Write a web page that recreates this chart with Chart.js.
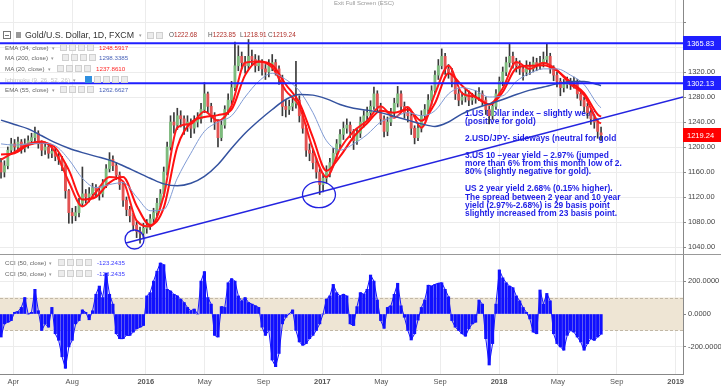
<!DOCTYPE html>
<html lang="en">
<head>
<meta charset="UTF-8">
<meta name="viewport" content="width=device-width, initial-scale=1.0">
<title>Gold/U.S. Dollar, 1D, FXCM</title>
<script src="https://cdn.jsdelivr.net/npm/chart.js"></script>
<style>
  body { margin: 0; background: #fff; font-family: 'Liberation Sans', Arial, sans-serif; }
  #wrap { position: relative; width: 721px; height: 390px; overflow: hidden; }
  #mainChart { position: absolute; left: 0; top: 0; }
  #cciChart { position: absolute; left: 0; top: 255px; }
  #wrap span, #wrap div { white-space: nowrap; }
  .abs { position: absolute; }
  .lg { position: absolute; left: 5px; height: 9px; line-height: 9px; font-size: 6.2px; color: #666; }
  .dd { color: #999; margin-left: 3px; font-size: 5px; }
  .ics { position: absolute; top: 1px; height: 7px; line-height: 7px; }
  .ics i { display: inline-block; width: 5px; height: 5px; margin-right: 2px; border: 1px solid #d0d0d0; background: #ececec; vertical-align: top; }
  .ics i.on { background: #2f8fe0; border-color: #2f8fe0; }
  .v { position: absolute; top: 0; }
  #hdr { position: absolute; top: 30px; left: 0; width: 320px; height: 10px; line-height: 10px; }
  .box { position: absolute; top: 1px; left: 3px; width: 6px; height: 6px; border: 1px solid #777;
         background: linear-gradient(#777, #777) center / 4px 1px no-repeat; }
  .sq { position: absolute; top: 2px; left: 16px; width: 5px; height: 6px; background: #999; }
  .ttl { position: absolute; left: 25px; top: 0; font-size: 8.8px; color: #333; }
  .ohlc { position: absolute; top: 0; font-size: 6.4px; color: #555; }
  .ohlc b { font-weight: normal; color: #b0302a; }
  #esc { position: absolute; top: 0; left: 334px; font-size: 6px; color: #999; }
</style>
</head>
<body>
<div id="wrap">
  <canvas id="mainChart" width="721" height="255"></canvas>
  <canvas id="cciChart" width="721" height="135"></canvas>

  <div id="esc">Exit Full Screen (ESC)</div>

  <div id="hdr">
    <span class="box"></span><span class="sq"></span>
    <span class="ttl">Gold/U.S. Dollar, 1D, FXCM</span>
    <span class="abs dd" style="left:136px;top:0">▾</span>
    <span class="ics" style="left:147px;top:2px"><i></i><i></i></span>
    <span class="ohlc" style="left:169px">O<b>1222.68</b></span>
    <span class="ohlc" style="left:208px">H<b>1223.85</b></span>
    <span class="ohlc" style="left:240px">L<b>1218.91</b></span>
    <span class="ohlc" style="left:268px">C<b>1219.24</b></span>
  </div>

  <div class="lg" style="top:42.5px">EMA (34, close)<span class="dd">▾</span>
    <span class="ics" style="left:55px"><i></i><i></i><i></i><i></i></span>
    <span class="v" style="left:94px;color:#ff2424">1248.5917</span></div>
  <div class="lg" style="top:52.5px">MA (200, close)<span class="dd">▾</span>
    <span class="ics" style="left:57px"><i></i><i></i><i></i><i></i></span>
    <span class="v" style="left:94px;color:#4a63b8">1298.3385</span></div>
  <div class="lg" style="top:63.5px">MA (20, close)<span class="dd">▾</span>
    <span class="ics" style="left:52px"><i></i><i></i><i></i><i></i></span>
    <span class="v" style="left:91px;color:#ff2424">1237.8610</span></div>
  <div class="lg" style="top:74.5px;color:#c4c4c4">Ichimoku (9, 26, 52, 26)<span class="dd">▾</span>
    <span class="ics" style="left:80px"><i class="on"></i><i></i><i></i><i></i><i></i></span></div>
  <div class="lg" style="top:84.5px">EMA (55, close)<span class="dd">▾</span>
    <span class="ics" style="left:55px"><i></i><i></i><i></i><i></i></span>
    <span class="v" style="left:94px;color:#4a63b8">1262.6627</span></div>

  <div class="lg" style="top:258px">CCI (50, close)<span class="dd">▾</span>
    <span class="ics" style="left:53px"><i></i><i></i><i></i><i></i></span>
    <span class="v" style="left:92px;color:#3a3aff">-123.2435</span></div>
  <div class="lg" style="top:269px">CCI (50, close)<span class="dd">▾</span>
    <span class="ics" style="left:53px"><i></i><i></i><i></i><i></i></span>
    <span class="v" style="left:92px;color:#3a3aff">-123.2435</span></div>
</div>

<script>
  Chart.defaults.font.family = "'Liberation Sans', Arial, sans-serif";
  Chart.defaults.animation = false;

  // x axis is in months counted from Jan 2015; candles are weekly
  const startMonth = 2.17;
  const weekStep = 0.2303;

  const opens = [
    1175,1160,1170,1195,1205,1200,1208,1198,1205,1210,
    1215,1222,1205,1195,1200,1190,1193,1185,1180,1170,
    1130,1095,1090,1095,1110,1125,1120,1125,1135,1130,
    1125,1140,1165,1180,1170,1155,1140,1115,1100,1090,
    1075,1065,1062,1070,1075,1085,1095,1110,1125,1160,
    1200,1240,1235,1250,1245,1235,1240,1230,1240,1245,
    1260,1285,1265,1250,1240,1215,1235,1260,1275,1295,
    1330,1345,1335,1330,1345,1340,1330,1335,1325,1320,
    1330,1335,1325,1310,1265,1260,1265,1270,1275,1250,
    1230,1195,1190,1175,1160,1140,1150,1160,1175,1190,
    1205,1220,1230,1235,1225,1210,1222,1240,1250,1255,
    1265,1285,1265,1245,1225,1240,1255,1270,1285,1265,
    1255,1250,1230,1215,1230,1250,1260,1275,1290,1315,
    1330,1345,1325,1320,1305,1285,1275,1280,1285,1275,
    1278,1280,1285,1275,1260,1250,1265,1285,1305,1320,
    1335,1345,1335,1330,1325,1320,1330,1325,1335,1330,
    1335,1340,1345,1325,1315,1305,1295,1300,1305,1300,
    1305,1285,1275,1265,1255,1245,1240,1222.68
  ];
  const highs = [
    1182,1178,1200,1214,1212,1216,1212,1213,1218,1222,
    1232,1226,1210,1208,1205,1200,1198,1190,1185,1173,
    1132,1102,1105,1118,1168,1132,1135,1142,1140,1136,
    1148,1172,1191,1186,1175,1160,1144,1120,1105,1094,
    1080,1072,1078,1084,1092,1102,1118,1132,1168,1208,
    1250,1255,1262,1258,1250,1250,1245,1250,1255,1270,
    1303,1288,1270,1255,1244,1242,1266,1285,1305,1368,
    1362,1352,1345,1372,1355,1348,1346,1340,1332,1340,
    1348,1340,1330,1315,1275,1275,1280,1337,1282,1258,
    1235,1205,1196,1182,1165,1158,1170,1182,1198,1212,
    1228,1240,1245,1240,1228,1230,1248,1258,1264,1274,
    1296,1290,1270,1250,1248,1262,1278,1297,1290,1272,
    1262,1255,1234,1238,1258,1268,1284,1298,1322,1340,
    1357,1350,1332,1326,1310,1292,1288,1294,1290,1286,
    1290,1295,1290,1280,1265,1272,1292,1312,1328,1344,
    1366,1352,1342,1338,1330,1338,1336,1344,1342,1345,
    1352,1365,1350,1330,1320,1310,1308,1312,1310,1312,
    1308,1290,1280,1270,1260,1252,1245,1232
  ];
  const lows = [
    1150,1152,1165,1188,1192,1195,1190,1192,1198,1204,
    1208,1198,1186,1188,1182,1183,1178,1172,1162,1118,
    1078,1078,1082,1088,1105,1110,1112,1118,1120,1115,
    1120,1135,1160,1162,1148,1132,1105,1090,1080,1066,
    1055,1046,1055,1062,1068,1078,1090,1104,1120,1155,
    1195,1222,1228,1232,1220,1225,1215,1222,1232,1238,
    1255,1255,1240,1228,1200,1210,1230,1252,1268,1290,
    1322,1325,1318,1325,1330,1320,1322,1315,1308,1312,
    1322,1315,1300,1250,1248,1252,1258,1262,1240,1222,
    1185,1178,1165,1150,1124,1128,1142,1152,1168,1182,
    1198,1212,1222,1215,1196,1204,1215,1232,1242,1248,
    1260,1256,1236,1216,1218,1234,1248,1264,1256,1246,
    1240,1220,1205,1210,1224,1244,1254,1268,1285,1308,
    1325,1316,1310,1296,1276,1266,1268,1272,1266,1268,
    1270,1274,1266,1252,1237,1244,1260,1280,1298,1314,
    1328,1326,1320,1316,1307,1314,1316,1320,1322,1324,
    1328,1334,1318,1306,1296,1282,1288,1294,1292,1294,
    1278,1266,1256,1246,1236,1230,1214,1211
  ];
  const closes = [
    1160,1170,1195,1205,1200,1208,1198,1205,1210,1215,
    1222,1205,1195,1200,1190,1193,1185,1180,1170,1130,
    1095,1090,1095,1110,1125,1120,1125,1135,1130,1125,
    1140,1165,1180,1170,1155,1140,1115,1100,1090,1075,
    1065,1062,1070,1075,1085,1095,1110,1125,1160,1200,
    1240,1235,1250,1245,1235,1240,1230,1240,1245,1260,
    1285,1265,1250,1240,1215,1235,1260,1275,1295,1330,
    1345,1335,1330,1345,1340,1330,1335,1325,1320,1330,
    1335,1325,1310,1265,1260,1265,1270,1275,1250,1230,
    1195,1190,1175,1160,1140,1150,1160,1175,1190,1205,
    1220,1230,1235,1225,1210,1222,1240,1250,1255,1265,
    1285,1265,1245,1225,1240,1255,1270,1285,1265,1255,
    1250,1230,1215,1230,1250,1260,1275,1290,1315,1330,
    1345,1325,1320,1305,1285,1275,1280,1285,1275,1278,
    1280,1285,1275,1260,1250,1265,1285,1305,1320,1335,
    1345,1335,1330,1325,1320,1330,1325,1335,1330,1335,
    1340,1345,1325,1315,1305,1295,1300,1305,1300,1305,
    1285,1275,1265,1255,1245,1240,1225,1219.24
  ];

  // moving averages read every 4 weeks
  const maWeeks = [0,4,8,12,16,20,24,28,32,36,40,44,48,52,56,60,64,68,72,76,80,84,88,
                   92,96,100,104,108,112,116,120,124,128,132,136,140,144,148,152,156,160,
                   164,168,172,176,177];
  const ma200 = [1243,1236,1229,1218,1207,1198,1191,1185,1179,1170,1160,1150,1141,1138,1142,1153,
                 1172,1198,1222,1242,1260,1276,1284,1283,1277,1268,1262,1259,1255,1249,1243,1237,
                 1233,1240,1253,1262,1269,1276,1284,1291,1296,1301,1305,1305,1300,1298.34];
  const ema55 = [1205,1203,1205,1206,1202,1180,1150,1135,1140,1143,1120,1098,1100,1150,1190,1225,
                 1240,1250,1280,1305,1318,1308,1290,1255,1210,1195,1205,1220,1240,1248,1255,1250,
                 1258,1285,1295,1290,1280,1282,1305,1318,1325,1325,1315,1300,1268,1262.66];
  const ema34 = [1188,1190,1203,1207,1199,1163,1116,1120,1143,1152,1106,1075,1103,1200,1239,1248,
                 1251,1260,1315,1337,1331,1300,1271,1215,1162,1185,1216,1238,1258,1255,1260,1242,
                 1270,1318,1298,1280,1268,1288,1326,1330,1331,1322,1304,1286,1252,1248.59];
  const ma20 = [1180,1192,1205,1209,1192,1144,1105,1128,1152,1145,1082,1073,1122,1231,1237,1257,
                1242,1266,1335,1337,1327,1290,1265,1197,1152,1197,1225,1242,1265,1247,1264,1231,
                1285,1330,1286,1280,1268,1294,1336,1325,1335,1323,1300,1283,1241,1237.86];

  const cci = [
    -140,-60,-50,-40,10,15,40,100,0,10,
    150,20,-100,-60,-80,40,-120,-160,-260,-330,
    -200,-160,-60,-40,25,10,-35,20,120,170,
    100,248,120,60,-120,-150,-150,-130,-130,-110,
    -90,-80,-70,110,130,200,260,310,300,150,
    140,120,110,90,70,40,20,30,0,200,
    258,100,60,-130,-140,45,40,190,215,200,
    110,80,100,70,60,50,40,-80,-130,-100,
    -280,-320,-240,-60,-20,0,25,-100,-170,-190,
    -180,-150,-130,-100,-60,0,90,110,180,130,
    110,120,110,-60,-70,45,130,120,150,237,
    200,85,-40,-87,40,50,120,187,50,-20,
    -100,-158,-120,-37,40,85,175,170,180,187,
    190,150,105,-40,-80,-100,-120,-135,-90,-60,
    -50,85,60,-150,-310,-180,60,268,220,190,
    170,160,110,80,40,10,-30,-110,-120,146,
    60,125,80,-120,-180,-200,-220,-130,-100,-110,
    -140,-170,-220,-180,-150,-160,-140,-123.24
  ];

  // drawn levels, trend line and circled lows (month, price)
  const levels = [1365.83, 1302.13];
  const trendLine = [[10.66, 1046.4], [48.5, 1280]];
  const circles = [[11.24, 1052, 0.645, 15.2], [23.77, 1123.7, 1.12, 20.8]];
  const noteAnchor = [33.69, 1253.9];
  const notes = [
    '1.US Dollar index – slightly weak',
    '(positive for gold)',
    '',
    '2.USD/JPY- sideways (neutral for gold',
    '',
    '3.US 10 –year yield – 2.97% (jumped',
    'more than 6% from this month low of 2.',
    '80% (slightly negative for gold).',
    '',
    'US 2 year yield 2.68% (0.15% higher).',
    'The spread between 2 year and 10 year',
    'yield (2.97%-2.68%) is 29 basis point',
    'slightly increased from 23 basis point.'
  ];

  const tickMonths = [3, 7, 12, 16, 20, 24, 28, 32, 36, 40, 44, 48];
  const tickLabels = ['Apr', 'Aug', '2016', 'May', 'Sep', '2017', 'May', 'Sep', '2018', 'May', 'Sep', '2019'];
  const priceTicks = [1040, 1080, 1120, 1160, 1200, 1240, 1280, 1320, 1360, 1400];
  const cciTicks = [-200, 0, 200];

  const xMin = 2.10, xMax = 48.5;
  const weekX = w => startMonth + w * weekStep;
  const gridColor = '#ececec';
  const upColor = '#7dbb7d', downColor = '#e25252', wickColor = '#3a3a3a';

  const lineSet = (vals, color, width) => ({
    type: 'line',
    data: vals.map((v, k) => ({ x: weekX(maWeeks[k]), y: v })),
    borderColor: color, borderWidth: width, pointRadius: 0,
    cubicInterpolationMode: 'monotone', order: 2
  });
  const straight = (pts, color, width) => ({
    type: 'line',
    data: pts.map(p => ({ x: p[0], y: p[1] })),
    borderColor: color, borderWidth: width, pointRadius: 0, order: 1
  });

  const marksPlugin = {
    id: 'marks',
    beforeDatasetsDraw(chart) {
      const { ctx, scales: { x, y } } = chart;
      const left = x.getPixelForValue(noteAnchor[0]);
      const top = y.getPixelForValue(noteAnchor[1]);
      ctx.save();
      ctx.font = "bold 8.4px 'Liberation Sans', Arial, sans-serif";
      ctx.fillStyle = '#1e1ee6';
      ctx.textBaseline = 'middle';
      notes.forEach((line, k) => ctx.fillText(line, left, top + k * 8.4));
      ctx.restore();
    },
    afterDatasetsDraw(chart) {
      const { ctx, scales: { x, y } } = chart;
      ctx.save();
      ctx.strokeStyle = '#2222e0';
      ctx.lineWidth = 1.3;
      circles.forEach(c => {
        const cx = x.getPixelForValue(c[0]), cy = y.getPixelForValue(c[1]);
        const rx = x.getPixelForValue(c[0] + c[2]) - cx;
        const ry = cy - y.getPixelForValue(c[1] + c[3]);
        ctx.beginPath();
        ctx.ellipse(cx, cy, rx, ry, 0, 0, Math.PI * 2);
        ctx.stroke();
      });
      ctx.restore();
    },
    afterDraw(chart) {
      const { ctx, chartArea, scales: { y } } = chart;
      const tags = [[levels[0], '#1f1fff'], [levels[1], '#1f1fff'], [closes[closes.length - 1], '#ff0000']];
      ctx.save();
      ctx.font = "7.5px 'Liberation Sans', Arial, sans-serif";
      ctx.textBaseline = 'middle';
      tags.forEach(t => {
        const py = Math.round(y.getPixelForValue(t[0]));
        ctx.fillStyle = t[1];
        ctx.fillRect(chartArea.right, py - 7, chart.width - chartArea.right, 14);
        ctx.fillStyle = '#fff';
        ctx.fillText(t[0].toFixed(2), chartArea.right + 4, py + 0.5);
      });
      ctx.strokeStyle = '#999';
      ctx.lineWidth = 1;
      ctx.beginPath();
      ctx.moveTo(0, chartArea.bottom - 0.5);
      ctx.lineTo(chart.width, chartArea.bottom - 0.5);
      ctx.stroke();
      ctx.restore();
    }
  };

  new Chart(document.getElementById('mainChart'), {
    type: 'bar',
    data: {
      datasets: [
        straight([[xMin, levels[0]], [xMax, levels[0]]], '#1f1fff', 2),
        straight([[xMin, levels[1]], [xMax, levels[1]]], '#1f1fff', 2),
        straight(trendLine, '#2424e0', 1.4),
        lineSet(ma200, '#34529f', 1.5),
        lineSet(ema55, '#7f9ad4', 1),
        lineSet(ema34, '#ff1010', 2),
        lineSet(ma20, '#ff1a1a', 2),
        {
          type: 'bar',
          data: opens.map((o, i) => ({ x: weekX(i), y: [o, closes[i]] })),
          backgroundColor: opens.map((o, i) => closes[i] >= o ? upColor : downColor),
          barThickness: 2.2, minBarLength: 1, grouped: false, order: 5
        },
        {
          type: 'bar',
          data: highs.map((h, i) => ({ x: weekX(i), y: [lows[i], h] })),
          backgroundColor: wickColor,
          barThickness: 1, grouped: false, order: 6
        }
      ]
    },
    options: {
      responsive: false,
      maintainAspectRatio: false,
      layout: { padding: 0 },
      plugins: { legend: { display: false }, tooltip: { enabled: false } },
      scales: {
        x: {
          type: 'linear', min: xMin, max: xMax, offset: false,
          afterBuildTicks: s => { s.ticks = tickMonths.map(v => ({ value: v })); },
          ticks: { display: false },
          grid: { color: gridColor, offset: false, drawTicks: false },
          border: { display: false },
          afterFit: s => { s.height = 0; s.paddingLeft = 0; s.paddingRight = 0; }
        },
        y: {
          position: 'right', min: 1027.2, max: 1435.2,
          afterBuildTicks: s => { s.ticks = priceTicks.map(v => ({ value: v })); },
          ticks: {
            callback: v => v > 1380 ? '' : v.toFixed(2),
            color: '#444', font: { size: 7.5 }, padding: 2, autoSkip: false
          },
          grid: { color: gridColor, tickLength: 3, tickColor: '#888' },
          border: { color: '#888' },
          afterFit: s => { s.width = 38; s.paddingTop = 0; s.paddingBottom = 0; }
        }
      }
    },
    plugins: [marksPlugin]
  });

  const bandPlugin = {
    id: 'band',
    beforeDatasetsDraw(chart) {
      const { ctx, chartArea, scales: { y } } = chart;
      const top = y.getPixelForValue(100), bottom = y.getPixelForValue(-100);
      ctx.save();
      ctx.fillStyle = '#eee5d4';
      ctx.fillRect(chartArea.left, top, chartArea.right - chartArea.left, bottom - top);
      ctx.strokeStyle = '#c2b8a6';
      ctx.setLineDash([3, 2]);
      ctx.lineWidth = 1;
      [top, bottom].forEach(py => {
        ctx.beginPath();
        ctx.moveTo(chartArea.left, Math.round(py) + 0.5);
        ctx.lineTo(chartArea.right, Math.round(py) + 0.5);
        ctx.stroke();
      });
      ctx.restore();
    }
  };

  new Chart(document.getElementById('cciChart'), {
    type: 'bar',
    data: {
      datasets: [
        {
          type: 'line',
          data: cci.map((v, i) => ({ x: weekX(i), y: v })),
          borderColor: '#1414ff', borderWidth: 1, pointRadius: 0, order: 1
        },
        {
          type: 'bar',
          data: cci.map((v, i) => ({ x: weekX(i), y: v })),
          backgroundColor: '#1010ff',
          barThickness: 2.5, grouped: false, order: 2
        }
      ]
    },
    options: {
      responsive: false,
      maintainAspectRatio: false,
      layout: { padding: 0 },
      plugins: { legend: { display: false }, tooltip: { enabled: false } },
      scales: {
        x: {
          type: 'linear', min: xMin, max: xMax, offset: false,
          afterBuildTicks: s => { s.ticks = tickMonths.map(v => ({ value: v })); },
          ticks: {
            callback: (v, i) => tickLabels[i],
            color: '#555', padding: 3, maxRotation: 0, autoSkip: false,
            font: ctx => ({ size: 7.5, weight: /^\d{4}$/.test(tickLabels[ctx.index]) ? 'bold' : 'normal' })
          },
          grid: { color: gridColor, offset: false, drawTicks: false },
          border: { color: '#888' },
          afterFit: s => { s.height = 16; s.paddingLeft = 0; s.paddingRight = 0; }
        },
        y: {
          position: 'right', min: -364.7, max: 358.7,
          afterBuildTicks: s => { s.ticks = cciTicks.map(v => ({ value: v })); },
          ticks: { callback: v => v.toFixed(4), color: '#444', font: { size: 7.5 }, padding: 2, autoSkip: false },
          grid: { color: gridColor, tickLength: 3, tickColor: '#888' },
          border: { color: '#888' },
          afterFit: s => { s.width = 38; s.paddingTop = 0; s.paddingBottom = 0; }
        }
      }
    },
    plugins: [bandPlugin]
  });
</script>
</body>
</html>
